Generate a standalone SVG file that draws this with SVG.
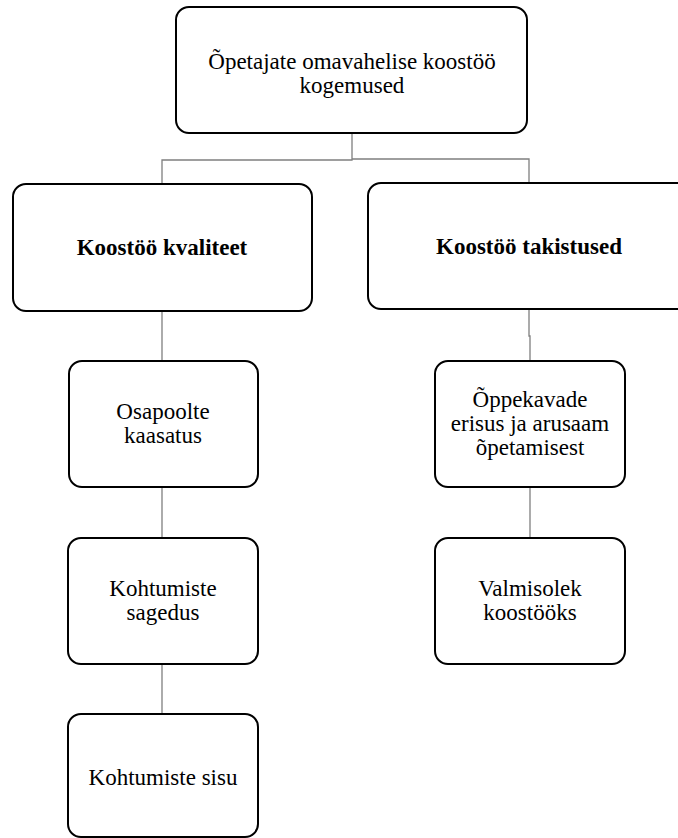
<svg xmlns="http://www.w3.org/2000/svg" width="678" height="838" viewBox="0 0 678 838">
<style>
.box{fill:#fff;stroke:#000;stroke-width:2}
.t{font-family:"Liberation Serif","Times New Roman",serif;font-size:23px;fill:#000;text-anchor:middle}
.b{font-weight:bold}
.c{fill:none;stroke:#7f7f7f;stroke-width:1.3}
</style>
<rect width="678" height="838" fill="#fff"/>
<g id="connectors">
<path class="c" d="M352,133 V160 H162 V184"/>
<path class="c" d="M352,159 H529 V183"/>
<path class="c" d="M162,311 V361"/>
<path class="c" d="M529,309 V336 H530 V361"/>
<path class="c" d="M162,487 V538"/>
<path class="c" d="M162,664 V714"/>
<path class="c" d="M530,487 V538"/>
</g>
<g id="root">
<rect class="box" x="176" y="7" width="351" height="126" rx="13"/>
<text class="t" x="352" y="69">Õpetajate omavahelise koostöö</text>
<text class="t" x="352" y="93">kogemused</text>
</g>
<g id="kvaliteet">
<rect class="box" x="13" y="184" width="299" height="127" rx="13"/>
<text class="t b" x="162" y="255">Koostöö kvaliteet</text>
</g>
<g id="takistused">
<rect class="box" x="368" y="183" width="322" height="126" rx="13"/>
<text class="t b" x="529" y="254">Koostöö takistused</text>
</g>
<g id="osapoolte">
<rect class="box" x="69" y="361" width="189" height="126" rx="13"/>
<text class="t" x="163" y="419">Osapoolte</text>
<text class="t" x="163" y="443">kaasatus</text>
</g>
<g id="sagedus">
<rect class="box" x="68" y="538" width="190" height="126" rx="13"/>
<text class="t" x="163" y="596">Kohtumiste</text>
<text class="t" x="163" y="620">sagedus</text>
</g>
<g id="sisu">
<rect class="box" x="68" y="714" width="190" height="123" rx="13"/>
<text class="t" x="163" y="785">Kohtumiste sisu</text>
</g>
<g id="oppekavade">
<rect class="box" x="435" y="361" width="190" height="126" rx="13"/>
<text class="t" x="530" y="407">Õppekavade</text>
<text class="t" x="530" y="431">erisus ja arusaam</text>
<text class="t" x="530" y="455">õpetamisest</text>
</g>
<g id="valmisolek">
<rect class="box" x="435" y="538" width="190" height="126" rx="13"/>
<text class="t" x="530" y="596">Valmisolek</text>
<text class="t" x="530" y="620">koostööks</text>
</g>
</svg>
